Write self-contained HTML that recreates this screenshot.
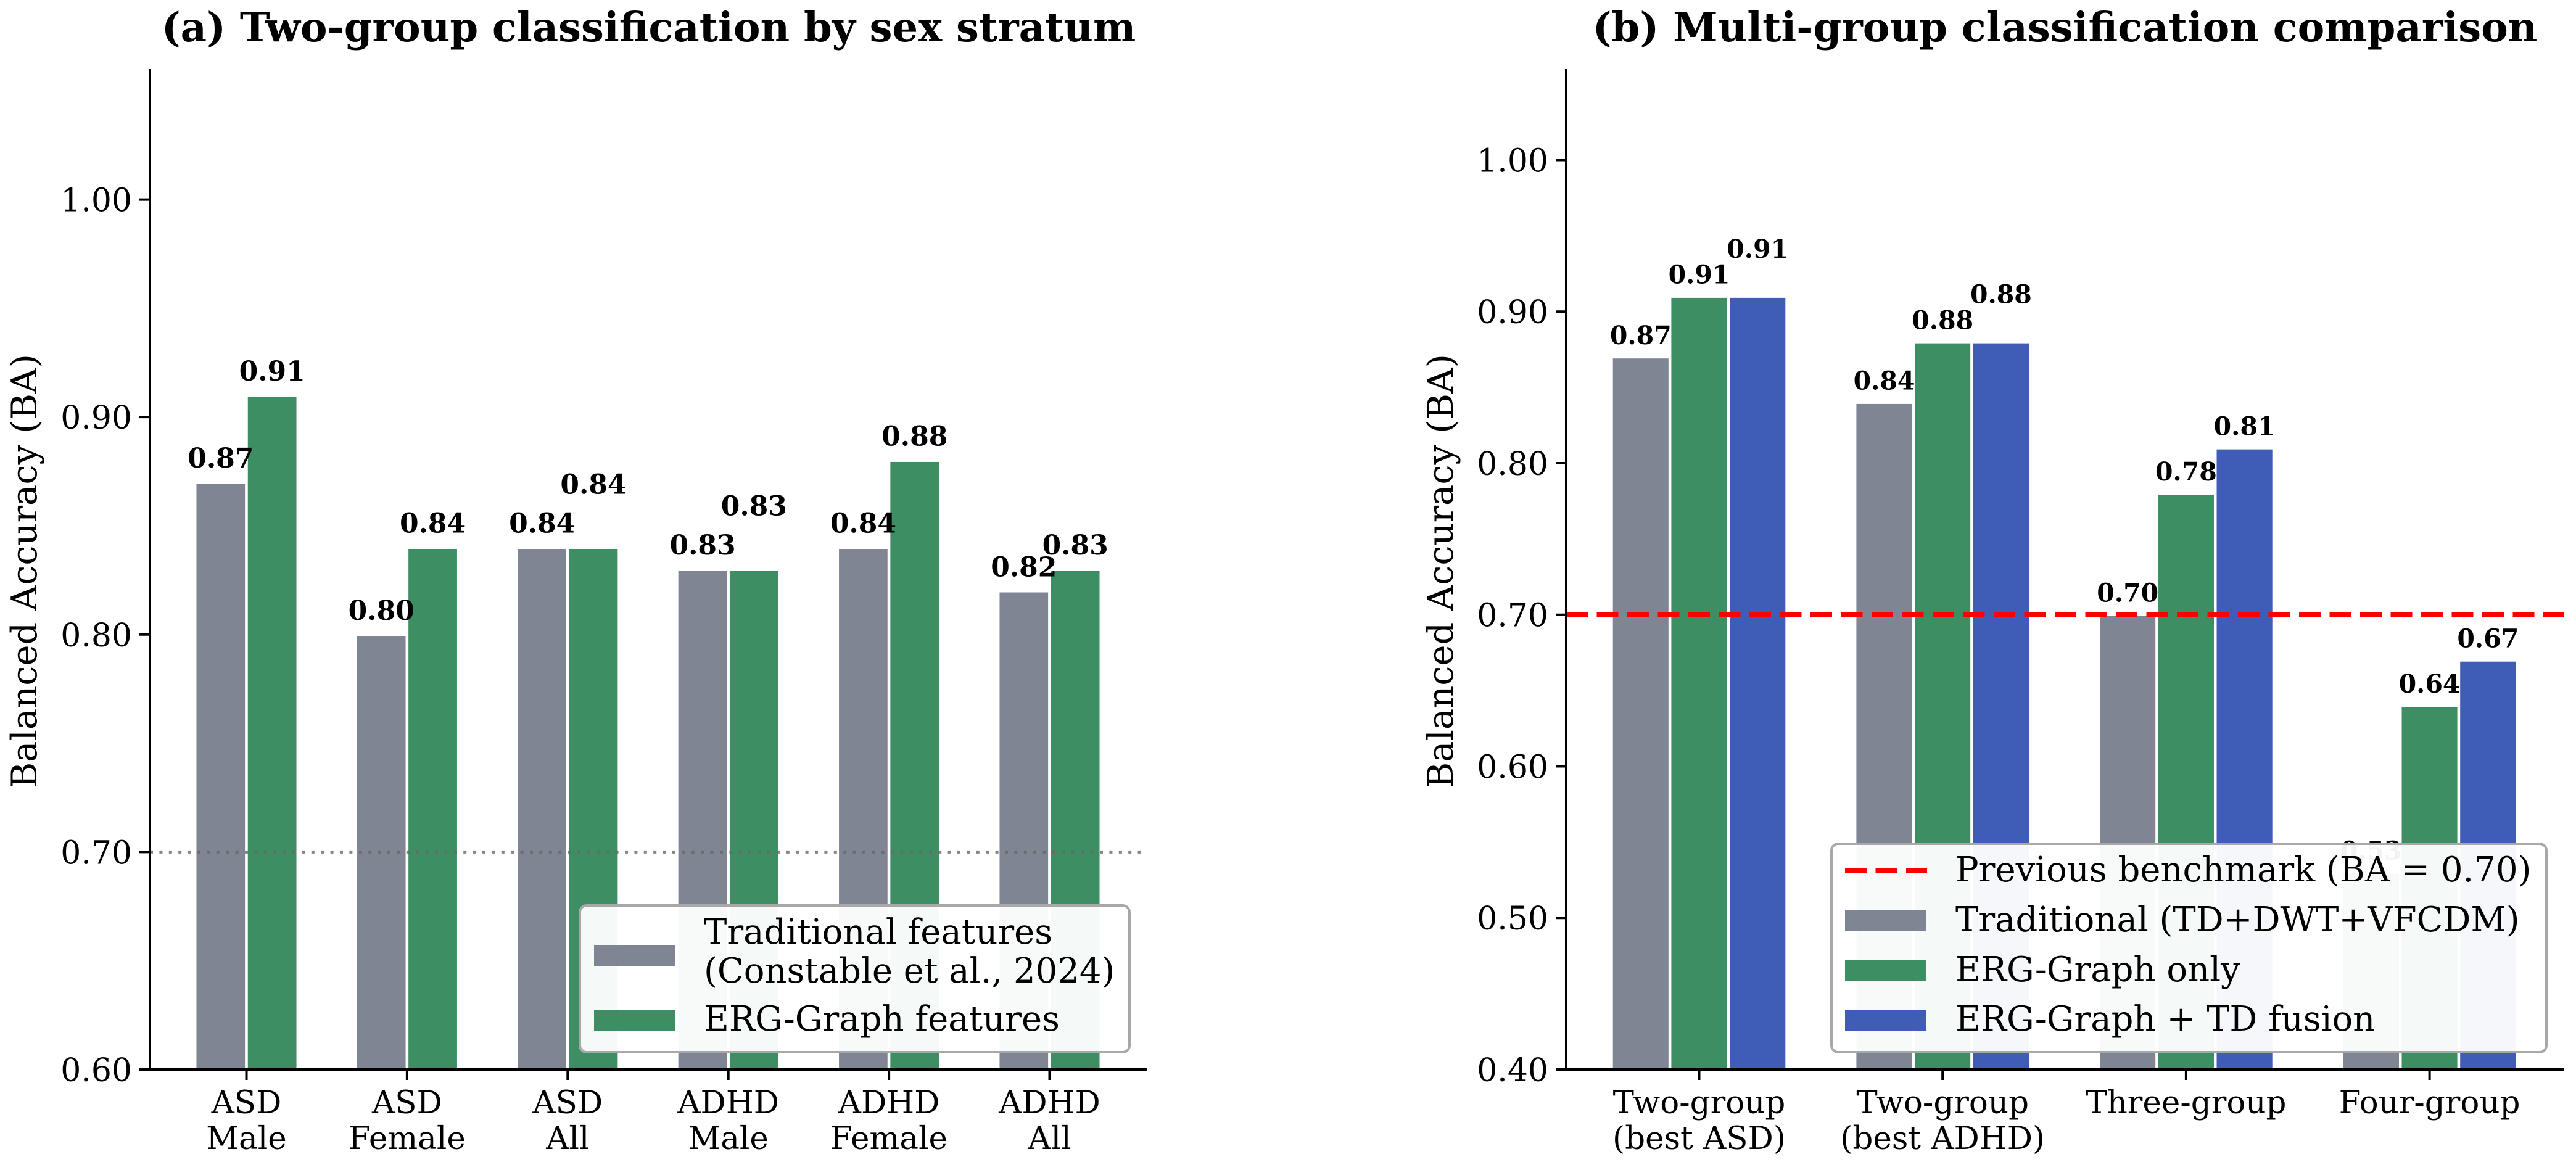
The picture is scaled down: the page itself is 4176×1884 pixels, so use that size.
<!DOCTYPE html>
<html lang="en">
<head>
<meta charset="utf-8">
<title>Balanced accuracy comparison</title>
<style>
html,body{margin:0;padding:0;background:#fff;}
svg{display:block;}
text{font-family:"DejaVu Serif","Liberation Serif",serif;fill:#000;}
</style>
</head>
<body>
<svg id="figure" xmlns="http://www.w3.org/2000/svg" width="4176" height="1884" viewBox="0 0 4176 1884">
  <rect width="4176" height="1884" fill="#fff"/>
</svg>
<script>
const categoriesA = [["ASD","Male"],["ASD","Female"],["ASD","All"],["ADHD","Male"],["ADHD","Female"],["ADHD","All"]];
const traditionalA = [0.87,0.80,0.84,0.83,0.84,0.82];
const ergGraphA = [0.91,0.84,0.84,0.83,0.88,0.83];
const yTicksA = [0.60,0.70,0.80,0.90,1.00];
const referenceA = 0.70;

const categoriesB = [["Two-group","(best ASD)"],["Two-group","(best ADHD)"],["Three-group"],["Four-group"]];
const traditionalB = [0.87,0.84,0.70,0.53];
const ergGraphB = [0.91,0.88,0.78,0.64];
const fusionB = [0.91,0.88,0.81,0.67];
const yTicksB = [0.40,0.50,0.60,0.70,0.80,0.90,1.00];
const benchmarkB = 0.70;

const GRAY = "#7f8592", GREEN = "#3d8f63", BLUE = "#3f5cb6";
const NS = "http://www.w3.org/2000/svg";
const svg = document.getElementById("figure");

function mk(parent, tag, attrs, txt) {
  const el = document.createElementNS(NS, tag);
  for (const k in attrs) el.setAttribute(k, attrs[k]);
  if (txt !== undefined) el.textContent = txt;
  parent.appendChild(el);
  return el;
}

/* ---------- axis functions ---------- */
const BOTTOM = 1734, TOP = 112;
const yA = v => BOTTOM - (v - 0.60) / 0.46 * (BOTTOM - TOP);
const xA = i => 399.5 + i * 260.4;
const yB = v => BOTTOM - (v - 0.40) / 0.66 * (BOTTOM - TOP);
const xB = i => 2754.5 + i * 394.7;

function drawPanel(cfg) {
  const g = mk(svg, "g", {});
  
  

  /* bars */
  cfg.series.forEach((s, si) => {
    s.values.forEach((v, i) => {
      const cx = cfg.x(i) + (si - (cfg.series.length - 1) / 2) * cfg.barW;
      const bar = mk(g, "rect", {
        x: cx - cfg.barW / 2, y: cfg.y(v), width: cfg.barW,
        height: BOTTOM - cfg.y(v), fill: s.color, stroke: "#fff", "stroke-width": cfg.edge
      });
      
      
    });
  });

  /* value labels: a value tied with the previous series sits higher */
  cfg.series.forEach((s, si) => {
    s.values.forEach((v, i) => {
      const cx = cfg.x(i) + (si - (cfg.series.length - 1) / 2) * cfg.barW;
      const tied = si > 0 && cfg.series[si - 1].values[i] === v;
      const yy = cfg.y(v + (tied ? cfg.lift : 0)) - cfg.labelGap;
      const lab = mk(g, "text", {
        x: cx, y: yy, "text-anchor": "middle", "font-size": cfg.labelSize, "font-weight": "bold"
      }, v.toFixed(2));
      
      
    });
  });

  /* reference line */
  const ref = mk(g, "line", Object.assign({
    x1: cfg.axisL, x2: cfg.axisR, y1: cfg.y(cfg.refValue), y2: cfg.y(cfg.refValue)
  }, cfg.refStyle));
  
  

  /* y ticks */
  cfg.yTicks.forEach(t => {
    const tk = mk(g, "line", {
      x1: cfg.axisL - 17, x2: cfg.axisL, y1: cfg.y(t), y2: cfg.y(t), stroke: "#000", "stroke-width": 4
    });
    
    
    const tl = mk(g, "text", {
      x: cfg.axisL - 29, y: cfg.y(t) + 19, "text-anchor": "end", "font-size": 52
    }, t.toFixed(2));
    
    
  });

  /* x ticks */
  cfg.categories.forEach((c, i) => {
    const tk = mk(g, "line", {
      x1: cfg.x(i), x2: cfg.x(i), y1: BOTTOM, y2: BOTTOM + 17, stroke: "#000", "stroke-width": 4
    });
    
    
    c.forEach((line, li) => {
      const tl = mk(g, "text", {
        x: cfg.x(i), y: 1805 + li * 58, "text-anchor": "middle", "font-size": 51.5
      }, line);
      
      
    });
  });

  /* spines */
  const sl = mk(g, "line", {x1: cfg.axisL, x2: cfg.axisL, y1: TOP, y2: BOTTOM + 2, stroke: "#000", "stroke-width": 4});
  
  
  const sb = mk(g, "line", {x1: cfg.axisL - 2, x2: cfg.axisR, y1: BOTTOM, y2: BOTTOM, stroke: "#000", "stroke-width": 4});
  
  

  /* titles */
  const title = mk(g, "text", {
    x: (cfg.axisL + cfg.axisR) / 2, y: 67, "text-anchor": "middle", "font-size": 65.5, "font-weight": "bold"
  }, cfg.title);
  
  
  const yl = mk(g, "text", {
    transform: "translate(" + cfg.yLabelX + ",926) rotate(-90)", "text-anchor": "middle", "font-size": 57.5
  }, "Balanced Accuracy (BA)");
  
  

  /* legend */
  const leg = mk(g, "g", {});
  
  
  const box = mk(leg, "rect", {
    x: cfg.legend.x, y: cfg.legend.y, width: cfg.legend.w, height: cfg.legend.h, rx: 11,
    fill: "#fff", "fill-opacity": 0.95, stroke: "#a8a8a8", "stroke-width": 4
  });
  
  
  cfg.legend.entries.forEach(e => {
    let sw;
    if (e.dash) {
      sw = mk(leg, "line", {x1: cfg.legend.swatchX, x2: cfg.legend.swatchX + 133, y1: e.swatchY + 17, y2: e.swatchY + 17,
        stroke: e.color, "stroke-width": 8, "stroke-dasharray": "35 14.5"});
    } else {
      sw = mk(leg, "rect", {x: cfg.legend.swatchX, y: e.swatchY, width: 131, height: 34, fill: e.color});
    }
    
    
    e.lines.forEach(l => {
      const t = mk(leg, "text", {x: cfg.legend.textX, y: l.y, "font-size": 56}, l.text);
      
      
    });
  });
}

drawPanel({
  name: "panel-a", title: "(a) Two-group classification by sex stratum",
  x: xA, y: yA, axisL: 243, axisR: 1860, yLabelX: 59, barW: 83.3, edge: 4.5, labelSize: 44, labelGap: 24, lift: 0.018,
  categories: categoriesA, yTicks: yTicksA, refValue: referenceA,
  refStyle: {stroke: "#666", "stroke-opacity": 0.8, "stroke-width": 5, "stroke-dasharray": "5 10.4"},
  series: [{key: "traditional", values: traditionalA, color: GRAY}, {key: "erg-graph", values: ergGraphA, color: GREEN}],
  legend: {x: 940, y: 1468, w: 891, h: 238, swatchX: 963, textX: 1141, entries: [
    {color: GRAY, swatchY: 1532, lines: [{text: "Traditional features", y: 1530}, {text: "(Constable et al., 2024)", y: 1593}]},
    {color: GREEN, swatchY: 1637, lines: [{text: "ERG-Graph features", y: 1671}]}
  ]}
});

drawPanel({
  name: "panel-b", title: "(b) Multi-group classification comparison",
  x: xB, y: yB, axisL: 2539, axisR: 4156, yLabelX: 2355, barW: 94.7, edge: 4.5, labelSize: 41, labelGap: 21, lift: 0.017,
  categories: categoriesB, yTicks: yTicksB, refValue: benchmarkB,
  refStyle: {stroke: "#ff0000", "stroke-width": 8, "stroke-dasharray": "35 14.5"},
  series: [{key: "traditional", values: traditionalB, color: GRAY}, {key: "erg-graph", values: ergGraphB, color: GREEN}, {key: "fusion", values: fusionB, color: BLUE}],
  legend: {x: 2969, y: 1368, w: 1159, h: 338, swatchX: 2991, textX: 3170, entries: [
    {color: "#ff0000", dash: true, swatchY: 1395, lines: [{text: "Previous benchmark (BA = 0.70)", y: 1429}]},
    {color: GRAY, swatchY: 1475, lines: [{text: "Traditional (TD+DWT+VFCDM)", y: 1510}]},
    {color: GREEN, swatchY: 1556, lines: [{text: "ERG-Graph only", y: 1591}]},
    {color: BLUE, swatchY: 1637, lines: [{text: "ERG-Graph + TD fusion", y: 1671}]}
  ]}
});
</script>
</body>
</html>
